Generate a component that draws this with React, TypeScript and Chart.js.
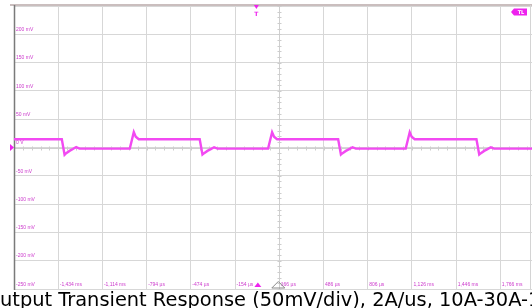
import React, { useEffect, useRef } from 'react';
import { Chart, registerables } from 'chart.js';

Chart.register(...registerables);

// Waveform: time (µs) and voltage (mV)
const timeUs = [
  -1754, -1408, -1388, -1376, -1352, -1328, -1304, -1280,
  -916, -887, -873, -851,
  -410, -390, -378, -354, -330, -306, -282,
  85, 114, 128, 150,
  592, 612, 624, 648, 672, 696, 720,
  1081, 1110, 1124, 1146,
  1593, 1613, 1625, 1649, 1673, 1697, 1721,
  1995,
];
const voltageMv = [
  14.6, 14.6, -12.8, -10, -6, -2.8, 0.8, -2,
  -2, 27.2, 19, 14.6,
  14.6, -12.5, -10, -6, -2.8, 0.5, -2,
  -2, 27, 19, 14.6,
  14.6, -12.5, -10, -6, -2.8, 0.5, -2,
  -2, 27, 19, 14.6,
  14.6, -12.5, -10, -6, -2.8, 0.5, -2,
  -2,
];

const xTickValues = [-1754, -1434, -1114, -794, -474, -154, 166, 486, 806, 1126, 1446, 1766];
const xTickLabels = ['', '-1,434 ms', '-1,114 ms', '-794 µs', '-474 µs', '-154 µs', '166 µs', '486 µs', '806 µs', '1,126 ms', '1,446 ms', '1,766 ms'];
const yTickValues = [-250, -200, -150, -100, -50, 0, 50, 100, 150, 200, 250];
const yTickLabels = ['-250 mV', '-200 mV', '-150 mV', '-100 mV', '-50 mV', '0 V', '50 mV', '100 mV', '150 mV', '200 mV', ''];

const xMin = -1754;
const xMax = 1995;
const yMin = -250;
const yMax = 250;
const triggerTimeUs = 0;
const centerTimeUs = 166;
const minorStepUs = 64;
const minorStepMv = 10;
const titleText = 'Output Transient Response (50mV/div), 2A/us, 10A-30A-10A';

const TRACE = '#f24af2';
const LABEL = '#cc3acc';
const GRID = '#d7d7d7';

const scopePlugin = {
  id: 'scopeDecor',
  beforeDatasetsDraw(chart: any) {
    const { ctx, chartArea: a, scales } = chart;
    const xs = scales.x;
    const ys = scales.y;
    ctx.save();
    const y0 = Math.round(ys.getPixelForValue(0)) + 0.5;
    const xc = Math.round(xs.getPixelForValue(centerTimeUs)) + 0.5;
    ctx.strokeStyle = '#cfcfcf';
    ctx.lineWidth = 1;
    ctx.beginPath();
    ctx.moveTo(a.left, y0);
    ctx.lineTo(a.right, y0);
    ctx.moveTo(xc, a.top);
    ctx.lineTo(xc, a.bottom);
    ctx.stroke();
    ctx.strokeStyle = '#cdcdcd';
    ctx.beginPath();
    for (let t = xMin; t <= xMax; t += minorStepUs) {
      const px = Math.round(xs.getPixelForValue(t)) + 0.5;
      ctx.moveTo(px, y0 - 2);
      ctx.lineTo(px, y0 + 2);
    }
    for (let v = yMin; v <= yMax; v += minorStepMv) {
      const py = Math.round(ys.getPixelForValue(v)) + 0.5;
      ctx.moveTo(xc - 2, py);
      ctx.lineTo(xc + 2, py);
    }
    ctx.stroke();
    ctx.strokeStyle = '#cabebe';
    ctx.lineWidth = 2;
    ctx.beginPath();
    ctx.moveTo(10, 5);
    ctx.lineTo(532, 5);
    ctx.stroke();
    ctx.strokeStyle = '#d4d4d4';
    ctx.lineWidth = 1;
    ctx.beginPath();
    ctx.moveTo(530.5, 5);
    ctx.lineTo(530.5, a.bottom);
    ctx.stroke();
    ctx.strokeStyle = '#7a7a7a';
    ctx.lineWidth = 1.5;
    ctx.beginPath();
    ctx.moveTo(14.5, 5);
    ctx.lineTo(14.5, a.bottom + 1);
    ctx.stroke();
    ctx.restore();
  },
  afterDraw(chart: any) {
    const { ctx, chartArea: a, scales } = chart;
    const xs = scales.x;
    const ys = scales.y;
    ctx.save();
    ctx.font = '5px "Liberation Sans"';
    ctx.fillStyle = LABEL;
    ctx.textAlign = 'left';
    ctx.textBaseline = 'middle';
    yTickValues.forEach((v, i) => {
      if (!yTickLabels[i]) return;
      ctx.fillText(yTickLabels[i], a.left + 2, ys.getPixelForValue(v) - 4.6);
    });
    xTickValues.forEach((v, i) => {
      if (!xTickLabels[i]) return;
      ctx.fillText(xTickLabels[i], xs.getPixelForValue(v) + 1.5, 284.3);
    });
    const xt = xs.getPixelForValue(triggerTimeUs);
    ctx.fillStyle = '#ee22ee';
    ctx.beginPath();
    ctx.moveTo(xt - 2.5, 5);
    ctx.lineTo(xt + 2.5, 5);
    ctx.lineTo(xt, 9);
    ctx.closePath();
    ctx.fill();
    ctx.font = 'bold 6px "DejaVu Sans"';
    ctx.textAlign = 'center';
    ctx.fillText('T', xt, 14);
    ctx.beginPath();
    ctx.moveTo(xt + 1.5, 282.5);
    ctx.lineTo(xt + 5, 287);
    ctx.lineTo(xt - 2, 287);
    ctx.closePath();
    ctx.fill();
    const yg = ys.getPixelForValue(0);
    ctx.beginPath();
    ctx.moveTo(10, yg - 3.5);
    ctx.lineTo(14, yg);
    ctx.lineTo(10, yg + 3.5);
    ctx.closePath();
    ctx.fill();
    ctx.beginPath();
    ctx.moveTo(511, 12);
    ctx.lineTo(514, 8.5);
    ctx.lineTo(527, 8.5);
    ctx.lineTo(527, 15.5);
    ctx.lineTo(514, 15.5);
    ctx.closePath();
    ctx.fill();
    ctx.fillStyle = '#ffffff';
    ctx.font = 'bold 5px "DejaVu Sans"';
    ctx.fillText('TL', 521, 12.3);
    const xc = xs.getPixelForValue(centerTimeUs) - 1;
    ctx.strokeStyle = '#8a8a8a';
    ctx.lineWidth = 1;
    ctx.beginPath();
    ctx.moveTo(xc, 281.5);
    ctx.lineTo(xc + 6.5, 288);
    ctx.lineTo(xc - 6.5, 288);
    ctx.closePath();
    ctx.stroke();
    ctx.font = '19.4px "DejaVu Sans"';
    ctx.fillStyle = '#000000';
    ctx.textAlign = 'left';
    ctx.textBaseline = 'alphabetic';
    const ow = ctx.measureText('O').width;
    ctx.fillText(titleText, -ow, 305.5);
    ctx.restore();
  },
};

export default function App() {
  const ref = useRef<HTMLCanvasElement>(null);
  useEffect(() => {
    if (!ref.current) return;
    const chart = new Chart(ref.current, {
      type: 'line',
      data: {
        datasets: [
          {
            data: timeUs.map((t, i) => ({ x: t, y: voltageMv[i] })),
            borderColor: TRACE,
            borderWidth: 2.4,
            pointRadius: 0,
            tension: 0,
            fill: false,
          },
        ],
      },
      options: {
        responsive: false,
        animation: false,
        devicePixelRatio: 1,
        layout: { padding: { left: 14, top: 6, right: 0, bottom: 19 } },
        plugins: { legend: { display: false }, tooltip: { enabled: false }, title: { display: false } },
        scales: {
          x: {
            type: 'linear',
            min: xMin,
            max: xMax,
            afterBuildTicks: (s: any) => {
              s.ticks = xTickValues.map((v) => ({ value: v }));
            },
            ticks: { display: false },
            border: { display: false },
            grid: { color: GRID, lineWidth: 1, drawTicks: false },
          },
          y: {
            type: 'linear',
            min: yMin,
            max: yMax,
            afterBuildTicks: (s: any) => {
              s.ticks = yTickValues.map((v) => ({ value: v }));
            },
            ticks: { display: false },
            border: { display: false },
            grid: { color: GRID, lineWidth: 1, drawTicks: false },
          },
        },
      } as any,
      plugins: [scopePlugin],
    });
    return () => chart.destroy();
  }, []);
  return (
    <div style={{ position: 'fixed', left: 0, top: 0, width: 532, height: 308, background: '#fff' }}>
      <canvas ref={ref} width={532} height={308} style={{ width: 532, height: 308 }} />
    </div>
  );
}
